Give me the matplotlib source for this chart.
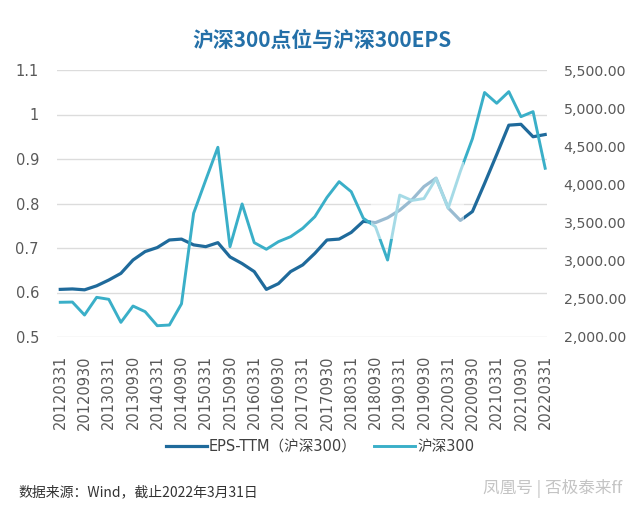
import matplotlib
matplotlib.use("Agg")
import matplotlib.pyplot as plt
from matplotlib.patches import Rectangle
from matplotlib.ticker import FuncFormatter

plt.rcParams['font.family'] = ['DejaVu Sans', 'Noto Sans CJK SC']

# quarter-end dates, 2012Q1 .. 2022Q1
quarters = [f"{y}{md}" for y in range(2012, 2023) for md in ("0331", "0630", "0930", "1231")][:41]

# EPS-TTM (沪深300), left axis
eps = [0.607, 0.608, 0.606, 0.615, 0.628, 0.643, 0.673, 0.692, 0.701, 0.718,
       0.720, 0.707, 0.703, 0.712, 0.680, 0.665, 0.647, 0.607, 0.620, 0.647,
       0.662, 0.688, 0.718, 0.720, 0.735, 0.760, 0.757, 0.768, 0.785, 0.808,
       0.838, 0.857, 0.790, 0.762, 0.782, 0.845, 0.910, 0.976, 0.978, 0.950,
       0.955]

# 沪深300 index level, right axis
hs300 = [2455, 2458, 2288, 2520, 2494, 2192, 2406, 2332, 2148, 2157,
         2435, 3622, 4058, 4487, 3184, 3744, 3237, 3150, 3250, 3315,
         3425, 3577, 3830, 4036, 3905, 3556, 3446, 3009, 3860, 3790,
         3815, 4078, 3690, 4170, 4600, 5205, 5064, 5216, 4888, 4954,
         4212]

dark = '#1f6a9b'
cyan = '#3aafc8'
grey = '#595959'

fig = plt.figure(figsize=(6.4, 5.09), dpi=100)
ax = fig.add_axes([57/640, 1 - 337/509, 490/640, 267/509])
ax2 = ax.twinx()

x = list(range(len(quarters)))
l1, = ax.plot(x, eps, color=dark, lw=2.3, solid_joinstyle='round', zorder=3,
              label='EPS-TTM（沪深300）')
l2, = ax2.plot(x, hs300, color=cyan, lw=2.1, solid_joinstyle='round', zorder=3,
               label='沪深300')

# washed-out patch in the middle of the source image
ax2.add_patch(Rectangle((25.6, 0.72), 7.7, 0.173, transform=ax.transData,
                        facecolor='white', edgecolor='none', alpha=0.55, zorder=5))

ax.set_xlim(-0.27, 40.15)
ax.set_ylim(0.5, 1.1)
ax.set_yticks([0.5, 0.6, 0.7, 0.8, 0.9, 1.0, 1.1])
ax.yaxis.set_major_formatter(FuncFormatter(lambda v, p: "1" if abs(v - 1) < 1e-9 else f"{v:.1f}"))
ax.grid(axis='y', color='#dcdcdc', lw=1)
ax.set_axisbelow(True)

ax2.set_ylim(2000, 5500)
ax2.set_yticks(range(2000, 5501, 500))
ax2.yaxis.set_major_formatter(FuncFormatter(lambda v, p: f"{v:,.2f}"))

ax.set_xticks(x[::2])
ax.set_xticklabels(quarters[::2], rotation=90, fontsize=10.5, color=grey)

for a in (ax, ax2):
    for s in a.spines.values():
        s.set_visible(False)
    a.tick_params(length=0)
ax.tick_params(axis='y', labelsize=10.5, labelcolor=grey, pad=13)
ax.tick_params(axis='x', pad=13)
ax2.tick_params(axis='y', labelsize=10.2, labelcolor=grey, pad=12)

fig.text(0.503, 1 - 40/509, '沪深300点位与沪深300EPS', ha='center', va='center',
         fontsize=15, fontweight='bold', color='#2470a8', family=['Noto Sans CJK SC'])

fig.legend(handles=[l1, l2], loc='center', bbox_to_anchor=(0.5, 1 - 447/509),
           ncol=2, frameon=False, fontsize=10.5, handlelength=2.8,
           handletextpad=0.15, columnspacing=1.2, labelcolor='#404040')

fig.text(18/640, 1 - 492/509, '数据来源：Wind，截止2022年3月31日', ha='left', va='center',
         fontsize=10, color='#333333', family=['Noto Sans CJK SC', 'DejaVu Sans'])
fig.text(622/640, 1 - 488/509, '凤凰号 | 否极泰来ff', ha='right', va='center',
         fontsize=12, color='#c4c4c4', family=['Noto Sans CJK SC', 'DejaVu Sans'])

fig.savefig('out.png', dpi=100, facecolor='white')
